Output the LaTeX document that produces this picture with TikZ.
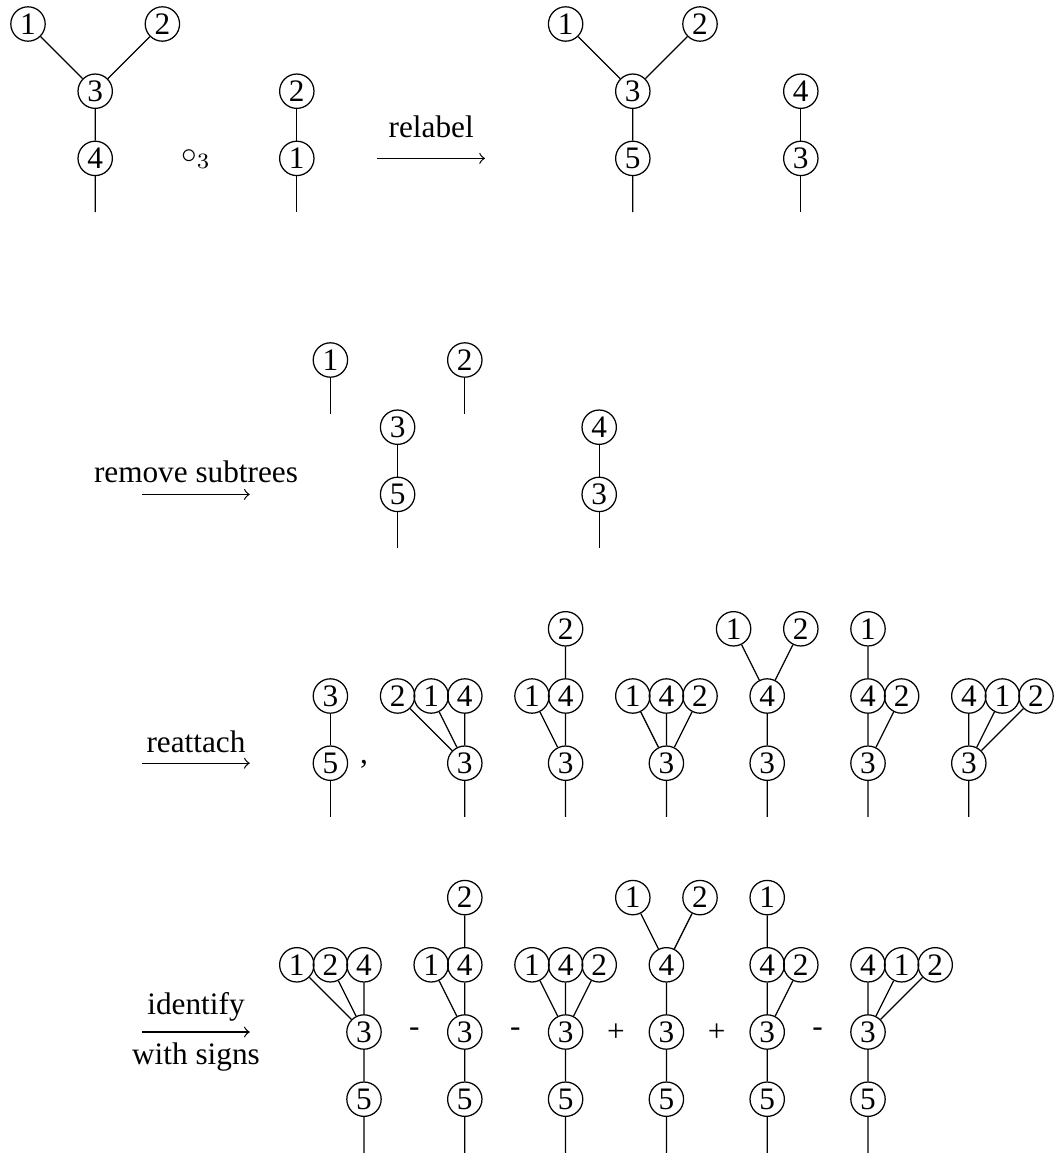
\documentclass[tikz,border=0pt]{standalone}
\usepackage{fontspec}
\setmainfont{Liberation Serif}
\tikzset{
vtx/.style={
	  draw, circle, inner sep=0pt, minimum size=11pt},
txt/.style={anchor=base, inner sep=0pt}
}

\begin{document}
\begin{tikzpicture}[x=10.75pt, y=-10.75pt]
	\useasboundingbox (-0.8333,-0.7143) rectangle (30.565,33.631);
	\node[vtx] (a1) at (0,0) {1};
	\node[vtx] (a2) at (4,0) {2};
	\node[vtx] (a3) at (2,2) {3};
	\node[vtx] (a4) at (2,4) {4};
	\coordinate (a0) at (2,5.6);
	\draw (a1) -- (a3) -- (a4) -- (a0) (a2) -- (a3);
	\node[txt] (comp) at (5,4.15) {$\circ_3$};
	\node[vtx] (b2) at (8,2) {2};
	\node[vtx] (b1) at (8,4) {1};
	\coordinate (b0) at (8,5.6);
	\draw (b2) -- (b1) -- (b0);
	\node[txt] (relabel) at (12,3.39) {relabel};
	\coordinate (relabel-s) at (10.4,4);
	\coordinate (relabel-e) at (13.6,4);
	\draw[->] (relabel-s) -- (relabel-e);
	\node[vtx] (c1) at (16,0) {1};
	\node[vtx] (c2) at (20,0) {2};
	\node[vtx] (c3) at (18,2) {3};
	\node[vtx] (c5) at (18,4) {5};
	\coordinate (c0) at (18,5.6);
	\draw (c1) -- (c3) -- (c5) -- (c0) (c2) -- (c3);
	\node[vtx] (d4) at (23,2) {4};
	\node[vtx] (d3) at (23,4) {3};
	\coordinate (d0) at (23,5.6);
	\draw (d4) -- (d3) -- (d0);

	\node[txt] (remove) at (5,13.66) {remove subtrees};
	\coordinate (remove-s) at (3.4,14);
	\coordinate (remove-e) at (6.6,14);
	\draw[->] (remove-s) -- (remove-e);
	\node[vtx] (e1) at (9,10) {1};
	\coordinate (e1-0) at (9,11.6);
	\draw (e1) -- (e1-0);
	\node[vtx] (e2) at (13,10) {2};
	\coordinate (e2-0) at (13,11.6);
	\draw (e2) -- (e2-0);
	\node[vtx] (e3) at (11,12) {3};
	\node[vtx] (e5) at (11,14) {5};
	\coordinate (e0) at (11,15.6);
	\draw (e3) -- (e5) -- (e0);
	\node[vtx] (f4) at (17,12) {4};
	\node[vtx] (f3) at (17,14) {3};
	\coordinate (f0) at (17,15.6);
	\draw (f4) -- (f3) -- (f0);

	\node[txt] (reattach) at (5,21.67) {reattach};
	\coordinate (reattach-s) at (3.4,22);
	\coordinate (reattach-e) at (6.6,22);
	\draw[->] (reattach-s) -- (reattach-e);
	\node[vtx] (g3) at (9,20) {3};
	\node[vtx] (g5) at (9,22) {5};
	\coordinate (g0) at (9,23.6);
	\draw (g3) -- (g5) -- (g0);
	\node[txt] (comma) at (10,22) {,};
	\node[vtx] (h2) at (11,20) {2};
	\node[vtx] (h1) at (12,20) {1};
	\node[vtx] (h4) at (13,20) {4};
	\node[vtx] (h3) at (13,22) {3};
	\coordinate (h0) at (13,23.6);
	\draw (h2) -- (h3) (h1) -- (h3) (h4) -- (h3) -- (h0);
	\node[vtx] (i2) at (16,18) {2};
	\node[vtx] (i1) at (15,20) {1};
	\node[vtx] (i4) at (16,20) {4};
	\node[vtx] (i3) at (16,22) {3};
	\coordinate (i0) at (16,23.6);
	\draw (i2) -- (i4) -- (i3) -- (i0) (i1) -- (i3);
	\node[vtx] (j1) at (18,20) {1};
	\node[vtx] (j4) at (19,20) {4};
	\node[vtx] (j2) at (20,20) {2};
	\node[vtx] (j3) at (19,22) {3};
	\coordinate (j0) at (19,23.6);
	\draw (j1) -- (j3) (j2) -- (j3) (j4) -- (j3) -- (j0);
	\node[vtx] (k1) at (21,18) {1};
	\node[vtx] (k2) at (23,18) {2};
	\node[vtx] (k4) at (22,20) {4};
	\node[vtx] (k3) at (22,22) {3};
	\coordinate (k0) at (22,23.6);
	\draw (k1) -- (k4) (k2) -- (k4) -- (k3) -- (k0);
	\node[vtx] (l1) at (25,18) {1};
	\node[vtx] (l4) at (25,20) {4};
	\node[vtx] (l2) at (26,20) {2};
	\node[vtx] (l3) at (25,22) {3};
	\coordinate (l0) at (25,23.6);
	\draw (l1) -- (l4) -- (l3) -- (l0) (l2) -- (l3);
	\node[vtx] (m4) at (28,20) {4};
	\node[vtx] (m1) at (29,20) {1};
	\node[vtx] (m2) at (30,20) {2};
	\node[vtx] (m3) at (28,22) {3};
	\coordinate (m0) at (28,23.6);
	\draw (m4) -- (m3) -- (m0) (m1) -- (m3) (m2) -- (m3);

	\node[txt] (identify) at (5,29.49) {identify};
	\node[txt] (signs) at (5,30.98) {with signs};
	\coordinate (identify-s) at (3.4,30);
	\coordinate (identify-e) at (6.6,30);
	\draw[->] (identify-s) -- (identify-e);
	\node[vtx] (n1) at (8,28) {1};
	\node[vtx] (n2) at (9,28) {2};
	\node[vtx] (n4) at (10,28) {4};
	\node[vtx] (n3) at (10,30) {3};
	\node[vtx] (n5) at (10,32) {5};
	\coordinate (n0) at (10,33.6);
	\draw (n1) -- (n3) (n2) -- (n3) (n4) -- (n3) -- (n5) -- (n0);
	\node[txt] (sg1) at (11.5,30.12) {-};
	\node[vtx] (o2) at (13,26) {2};
	\node[vtx] (o1) at (12,28) {1};
	\node[vtx] (o4) at (13,28) {4};
	\node[vtx] (o3) at (13,30) {3};
	\node[vtx] (o5) at (13,32) {5};
	\coordinate (o0) at (13,33.6);
	\draw (o2) -- (o4) -- (o3) -- (o5) -- (o0) (o1) -- (o3);
	\node[txt] (sg2) at (14.5,30.12) {-};
	\node[vtx] (p1) at (15,28) {1};
	\node[vtx] (p4) at (16,28) {4};
	\node[vtx] (p2) at (17,28) {2};
	\node[vtx] (p3) at (16,30) {3};
	\node[vtx] (p5) at (16,32) {5};
	\coordinate (p0) at (16,33.6);
	\draw (p1) -- (p3) (p2) -- (p3) (p4) -- (p3) -- (p5) -- (p0);
	\node[txt] (sg3) at (17.5,30.27) {+};
	\node[vtx] (q1) at (18,26) {1};
	\node[vtx] (q2) at (20,26) {2};
	\node[vtx] (q4) at (19,28) {4};
	\node[vtx] (q3) at (19,30) {3};
	\node[vtx] (q5) at (19,32) {5};
	\coordinate (q0) at (19,33.6);
	\draw (q1) -- (q4) (q2) -- (q4) -- (q3) -- (q5) -- (q0);
	\node[txt] (sg4) at (20.5,30.27) {+};
	\node[vtx] (r1) at (22,26) {1};
	\node[vtx] (r4) at (22,28) {4};
	\node[vtx] (r2) at (23,28) {2};
	\node[vtx] (r3) at (22,30) {3};
	\node[vtx] (r5) at (22,32) {5};
	\coordinate (r0) at (22,33.6);
	\draw (r1) -- (r4) -- (r3) -- (r5) -- (r0) (r2) -- (r3);
	\node[txt] (sg5) at (23.5,30.12) {-};
	\node[vtx] (s4) at (25,28) {4};
	\node[vtx] (s1) at (26,28) {1};
	\node[vtx] (s2) at (27,28) {2};
	\node[vtx] (s3) at (25,30) {3};
	\node[vtx] (s5) at (25,32) {5};
	\coordinate (s0) at (25,33.6);
	\draw (s4) -- (s3) -- (s5) -- (s0) (s1) -- (s3) (s2) -- (s3);
\end{tikzpicture}
\end{document}
